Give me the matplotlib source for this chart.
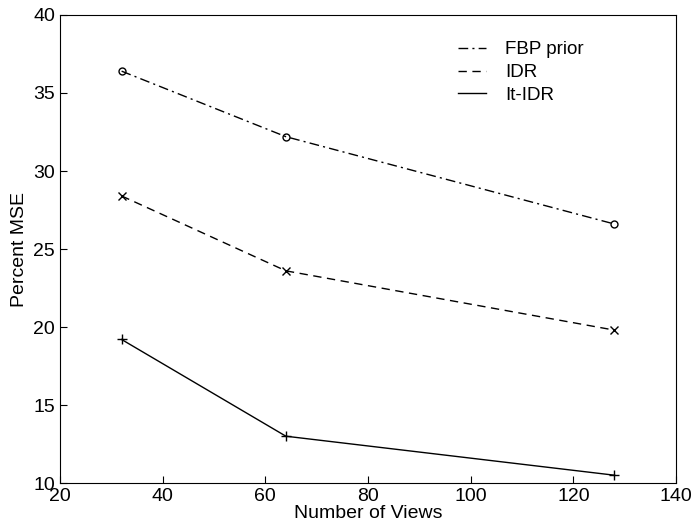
import matplotlib
matplotlib.use("Agg")
import matplotlib.pyplot as plt

plt.rcParams['font.family'] = ['Liberation Sans', 'DejaVu Sans']

views = [32, 64, 128]
fbp_prior = [36.4, 32.2, 26.6]
idr = [28.4, 23.6, 19.8]
it_idr = [19.2, 13.0, 10.5]

fig = plt.figure(figsize=(6.93, 5.28), dpi=100)
ax = fig.add_axes([0.0866, 0.0852, 0.889, 0.8864])

# lines (legend shows lines only)
ax.plot(views, fbp_prior, color='black', linestyle=(0, (7, 3, 1.5, 3)), linewidth=1, label='FBP prior')
ax.plot(views, idr, color='black', linestyle=(0, (6, 4)), linewidth=1, label='IDR')
ax.plot(views, it_idr, color='black', linestyle='-', linewidth=1, label='It-IDR')

# markers
ax.plot(views, fbp_prior, 'o', color='black', markersize=5, markerfacecolor='none')
ax.plot(views, idr, 'x', color='black', markersize=6)
ax.plot(views, it_idr, '+', color='black', markersize=7)

ax.set_xlim(20, 140)
ax.set_ylim(10, 40)
ax.set_xticks([20, 40, 60, 80, 100, 120, 140])
ax.set_yticks([10, 15, 20, 25, 30, 35, 40])
ax.tick_params(direction='in', labelsize=14, length=5)
ax.set_xlabel('Number of Views', fontsize=14, labelpad=0)
ax.set_ylabel('Percent MSE', fontsize=14)

ax.legend(loc='upper left', frameon=False, fontsize=13.5, handlelength=1.5,
          handletextpad=1.0, labelspacing=0.3, borderaxespad=0, borderpad=0,
          bbox_to_anchor=(0.646, 0.944))

fig.savefig('out.png', dpi=100)
